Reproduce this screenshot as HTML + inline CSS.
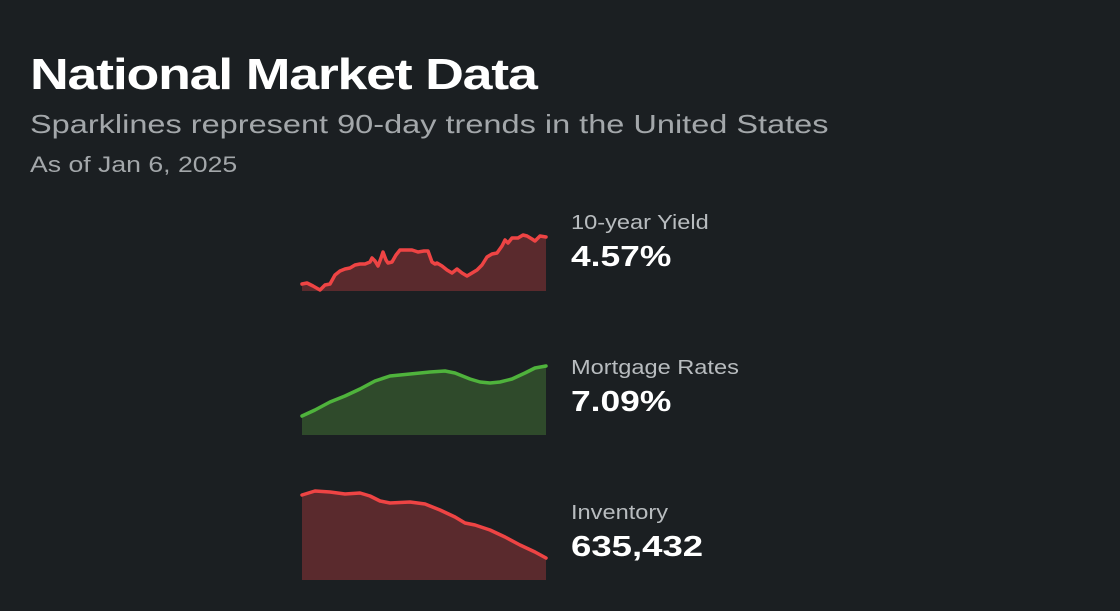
<!DOCTYPE html>
<html><head><style>
body{margin:0;width:1120px;height:611px;background:#1b1f22;overflow:hidden;font-family:"Liberation Sans",sans-serif;}
div{transform-origin:0 0;white-space:nowrap}
.t{position:absolute;left:30px;top:50px;font-size:44px;font-weight:bold;color:#fff;letter-spacing:-1px;transform:scaleX(1.22)}
.s{position:absolute;left:30px;top:109px;font-size:26px;color:#a3a7aa;transform:scaleX(1.25)}
.d{position:absolute;left:30px;top:152px;font-size:22px;color:#a3a7aa;transform:scaleX(1.21)}
.l{position:absolute;left:571px;font-size:20px;color:#b8bcbf;transform:scaleX(1.18)}
.v{position:absolute;left:571px;font-size:29px;font-weight:bold;color:#fff;transform:scaleX(1.22)}
</style></head><body>
<div class="t">National Market Data</div>
<div class="s">Sparklines represent 90-day trends in the United States</div>
<div class="d">As of Jan 6, 2025</div>
<div class="l" style="top:212px">10-year Yield</div>
<div class="v" style="top:241px">4.57%</div>
<div class="l" style="top:357px">Mortgage Rates</div>
<div class="v" style="top:386px">7.09%</div>
<div class="l" style="top:502px">Inventory</div>
<div class="v" style="top:531px;transform:scaleX(1.26)">635,432</div>
<svg width="1120" height="611" style="position:absolute;left:0;top:0">
<g stroke-linejoin="round" stroke-linecap="round">
<polygon fill="#5a2a2d" points="302,291 302,284 307,283 313,286 320,290 325,285 330,284 335,275 340,271 345,269 350,268 355,265 360,264 365,264 370,262 372,258 375,261 378,266 381,258 383,252 386,260 388,263 392,262 396,255 400,250 406,250 412,250 418,252 424,251 428,251 432,262 435,264 437,263 442,266 447,270 452,273 457,269 462,273 467,276 472,273 477,270 482,265 487,257 492,254 497,253 502,246 505,240 508,243 512,238 518,238 523,235 527,236 532,239 535,241 540,236 546,237 546,291"/>
<polyline fill="none" stroke="#ee4444" stroke-width="3.5" points="302,284 307,283 313,286 320,290 325,285 330,284 335,275 340,271 345,269 350,268 355,265 360,264 365,264 370,262 372,258 375,261 378,266 381,258 383,252 386,260 388,263 392,262 396,255 400,250 406,250 412,250 418,252 424,251 428,251 432,262 435,264 437,263 442,266 447,270 452,273 457,269 462,273 467,276 472,273 477,270 482,265 487,257 492,254 497,253 502,246 505,240 508,243 512,238 518,238 523,235 527,236 532,239 535,241 540,236 546,237"/>
<polygon fill="#2f4a2b" points="302,435 302,416 315,410 330,402 345,396 360,389 375,381 390,376 410,374 430,372 445,371 455,373 470,379 480,382 490,383 500,382 512,379 525,373 535,368 546,366 546,435"/>
<polyline fill="none" stroke="#4fb33c" stroke-width="3.5" points="302,416 315,410 330,402 345,396 360,389 375,381 390,376 410,374 430,372 445,371 455,373 470,379 480,382 490,383 500,382 512,379 525,373 535,368 546,366"/>
<polygon fill="#5a2a2d" points="302,580 302,495 315,491 330,492 345,494 360,493 370,496 380,501 390,503 410,502 425,504 440,510 455,517 465,523 475,525 490,530 505,537 520,545 535,552 546,558 546,580"/>
<polyline fill="none" stroke="#ee4444" stroke-width="3.5" points="302,495 315,491 330,492 345,494 360,493 370,496 380,501 390,503 410,502 425,504 440,510 455,517 465,523 475,525 490,530 505,537 520,545 535,552 546,558"/>
</g></svg>
</body></html>
